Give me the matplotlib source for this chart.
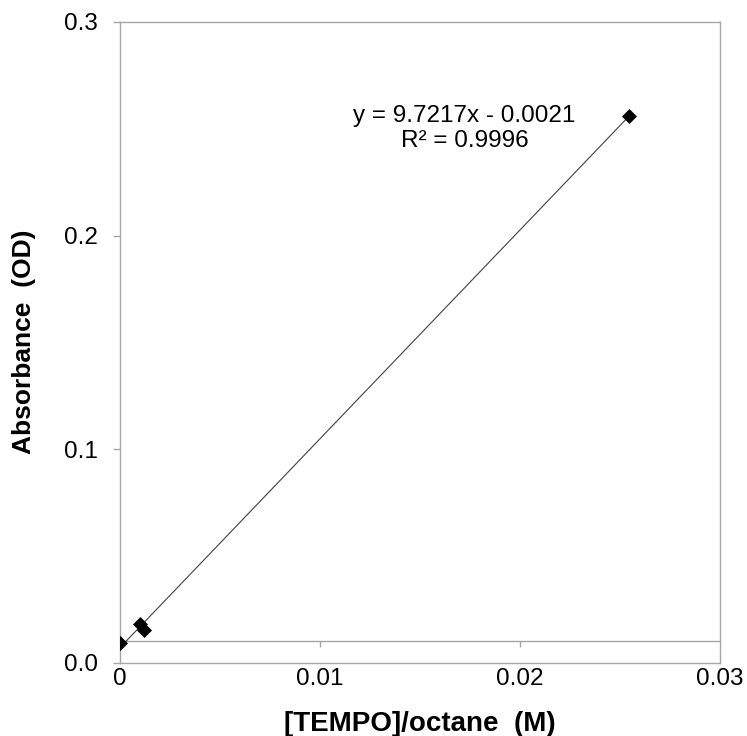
import numpy as np
import matplotlib
matplotlib.use('Agg')
import matplotlib.pyplot as plt

plt.rcParams['font.family'] = ['Liberation Sans', 'DejaVu Sans']

# данные калибровки
tempo_conc = [0.0, 0.0010, 0.0012, 0.02545]
absorbance = [0.0090, 0.0181, 0.0153, 0.2560]
x_ticks = [0, 0.01, 0.02, 0.03]
x_tick_labels = ['0', '0.01', '0.02', '0.03']
y_ticks = [0.0, 0.1, 0.2, 0.3]
y_tick_labels = ['0.0', '0.1', '0.2', '0.3']
fit_text = 'y = 9.7217x - 0.0021\nR² = 0.9996'

GRAY = '#a6a6a6'

fig = plt.figure(figsize=(7.47, 7.36), dpi=100)
ax = fig.add_axes([120 / 747, 1 - 662.5 / 736, 600 / 747, 640.5 / 736])

# линейный тренд
k, b = np.polyfit(tempo_conc, absorbance, 1)
xs = np.array([min(tempo_conc), max(tempo_conc)])
ax.plot(xs, k * xs + b, color='#404040', lw=0.8, zorder=2)
ax.plot(tempo_conc, absorbance, 'D', color='black', ms=7, mew=0.5, zorder=3)

ax.set_xlim(0, 0.03)
ax.set_ylim(0, 0.3)
ax.set_xticks(x_ticks)
ax.set_xticklabels(x_tick_labels)
ax.set_yticks(y_ticks)
ax.set_yticklabels(y_tick_labels)
ax.tick_params(axis='x', length=0, pad=4, labelsize=17.5)
ax.tick_params(axis='y', length=5, width=1, color=GRAY, pad=11, labelsize=17.5)
for sp in ax.spines.values():
    sp.set_color(GRAY)
    sp.set_linewidth(1.0)

# ось X пересекает Y на 0.01
sec = ax.secondary_xaxis(0.01 / 0.3)
sec.set_xticks(x_ticks[1:3])
sec.tick_params(axis='x', length=4, width=1, color=GRAY, labelbottom=False)
sec.spines['bottom'].set_color(GRAY)
sec.spines['bottom'].set_linewidth(1.0)

ax.set_xlabel('[TEMPO]/octane  (M)', fontsize=20, fontweight='bold', labelpad=15)
ax.set_ylabel('Absorbance  (OD)', fontsize=19, fontweight='bold', labelpad=20)

ax.text(0.01723, 0.2501, fit_text, ha='center', va='center', fontsize=17.5,
        linespacing=1.2)

fig.savefig('out.png', dpi=100)
